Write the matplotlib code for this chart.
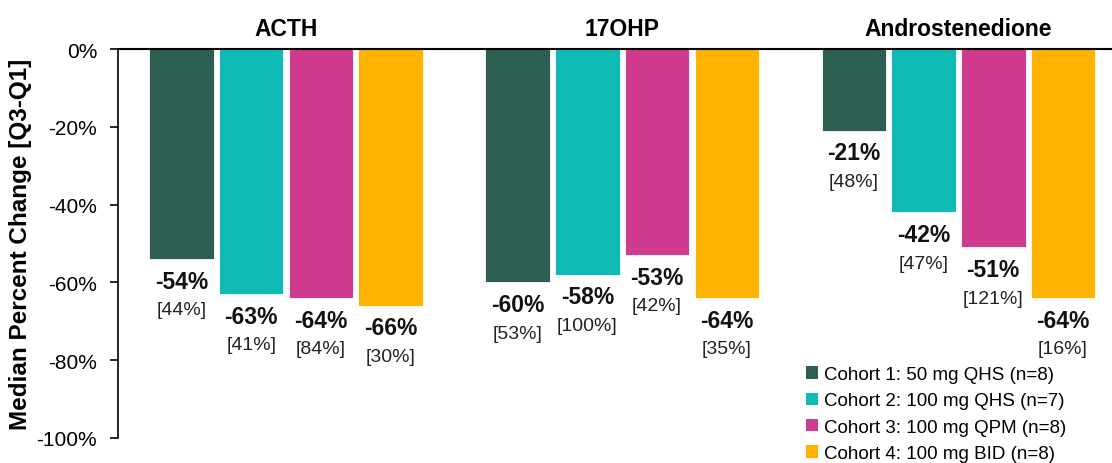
import matplotlib
matplotlib.use("Agg")
import matplotlib.pyplot as plt
import numpy as np
from matplotlib.patches import Patch
from matplotlib.transforms import blended_transform_factory

plt.rcParams['font.family'] = ['Liberation Sans', 'DejaVu Sans']

# Hormones shown as groups
categories = ["ACTH", "17OHP", "Androstenedione"]

# Cohort labels
cohorts = [
    "Cohort 1: 50 mg QHS (n=8)",
    "Cohort 2: 100 mg QHS (n=7)",
    "Cohort 3: 100 mg QPM (n=8)",
    "Cohort 4: 100 mg BID (n=8)",
]

# Median percent change per cohort (ACTH, 17OHP, Androstenedione)
cohort1_median = [-54, -60, -21]
cohort2_median = [-63, -58, -42]
cohort3_median = [-64, -53, -51]
cohort4_median = [-66, -64, -64]

# Interquartile range [Q3-Q1] per cohort
cohort1_iqr = [44, 53, 48]
cohort2_iqr = [41, 100, 47]
cohort3_iqr = [84, 42, 121]
cohort4_iqr = [30, 35, 16]

y_ticks = [0, -20, -40, -60, -80, -100]

colors = ["#2C5F52", "#0EBBB5", "#CF3B8E", "#FFB200"]

medians = [cohort1_median, cohort2_median, cohort3_median, cohort4_median]
iqrs = [cohort1_iqr, cohort2_iqr, cohort3_iqr, cohort4_iqr]

fig = plt.figure(figsize=(11.12, 4.64), dpi=100)
ax = fig.add_axes([118 / 1112, 1 - 439 / 464, 1 - 118 / 1112, (439 - 50) / 464])

x = np.arange(len(categories))
pitch = 0.2074
width = 0.192

for i, (vals, rngs, col) in enumerate(zip(medians, iqrs, colors)):
    pos = x + (i - 1.5) * pitch
    ax.bar(pos, vals, width=width, color=col, edgecolor="white", linewidth=0.6,
           label=cohorts[i], zorder=2)
    for px, v, r in zip(pos, vals, rngs):
        ax.annotate(f"{v}%", (px, v), xytext=(0, -16), textcoords="offset points",
                    ha="center", va="center", fontsize=16.5, fontweight="bold",
                    color="#111111")
        ax.annotate(f"[{r}%]", (px, v), xytext=(0, -36.5), textcoords="offset points",
                    ha="center", va="center", fontsize=14, color="#222222")

# Group titles above the zero line
trans = blended_transform_factory(ax.transData, ax.transAxes)
for xi, name in zip(x, categories):
    ax.text(xi, 1.053, name, transform=trans, ha="center", va="center",
            fontsize=16.5, fontweight="bold")

ax.set_ylim(-100, 0)
ax.set_xlim(-0.5, 2.457)
ax.set_yticks(y_ticks)
ax.set_yticklabels([f"{t}%" for t in y_ticks], fontsize=15)
ax.set_xticks([])
ax.tick_params(axis="y", direction="out", length=6, width=1.2, pad=9)

for side in ["right", "bottom"]:
    ax.spines[side].set_visible(False)
ax.spines["left"].set_linewidth(1.2)
ax.spines["top"].set_linewidth(1.5)

ax.set_ylabel("Median Percent Change [Q3-Q1]", fontsize=17.5, fontweight="bold")
ax.yaxis.set_label_coords(-0.0865, 0.5)

handles = [Patch(facecolor=c, edgecolor="none") for c in colors]
fig.legend(handles, cohorts, loc="upper left",
           bbox_to_anchor=(806 / 1112, 1 - 367 / 464), frameon=False,
           fontsize=13.5, handlelength=0.65, handleheight=0.65,
           handletextpad=0.3, labelspacing=0.5, borderpad=0, borderaxespad=0)

fig.savefig("out.png", dpi=100)
